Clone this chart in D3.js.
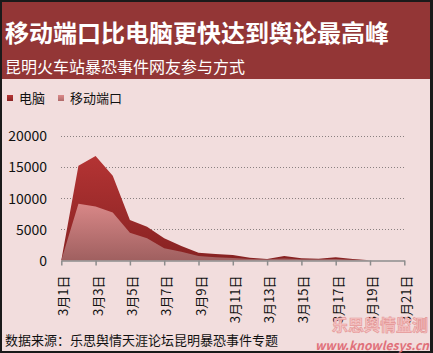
<!DOCTYPE html>
<html><head><meta charset="utf-8">
<script src="https://cdn.jsdelivr.net/npm/d3@7"></script>
<style>
html,body{margin:0;padding:0;background:#fff;}
svg{display:block;}
text{font-family:"Noto Sans CJK SC","Liberation Sans",sans-serif;}
</style></head>
<body>
<svg id="chart" width="433" height="353"></svg>
<script>
const dates = ["3月1日","3月2日","3月3日","3月4日","3月5日","3月6日","3月7日","3月8日","3月9日","3月10日","3月11日","3月12日","3月13日","3月14日","3月15日","3月16日","3月17日","3月18日","3月19日","3月20日","3月21日"];
const pcValues = [0,15200,16800,13600,6500,5400,3550,2300,1230,1000,850,420,200,700,320,260,480,200,20,null,null];
const mobileValues = [0,9080,8650,7680,4450,3550,1940,1390,700,480,370,200,150,300,150,150,200,80,10,null,null];
const yTicks = [0,5000,10000,15000,20000];
const seriesNames = ["电脑","移动端口"];
const titleText = "移动端口比电脑更快达到舆论最高峰";
const subtitleText = "昆明火车站暴恐事件网友参与方式";
const sourceText = "数据来源：乐思舆情天涯论坛昆明暴恐事件专题";

const svg = d3.select("#chart");
// background + border
svg.append("rect").attr("x",0).attr("y",0).attr("width",433).attr("height",353).attr("fill","#1a1a1a");
svg.append("rect").attr("x",2).attr("y",2).attr("width",428).attr("height",349).attr("fill","#f2dddd");
svg.append("rect").attr("x",2).attr("y",2).attr("width",428).attr("height",77).attr("fill","#933636");

svg.append("text").attr("x",5).attr("y",42).attr("fill","#fff").attr("font-size",24).attr("font-weight","bold").text(titleText);
svg.append("text").attr("x",5).attr("y",73).attr("fill","#fff").attr("font-size",16).text(subtitleText);

const defs = svg.append("defs");
const g1 = defs.append("linearGradient").attr("id","gPc").attr("gradientUnits","userSpaceOnUse").attr("x1",0).attr("y1",150).attr("x2",0).attr("y2",260);
g1.append("stop").attr("offset","0%").attr("stop-color","#b73535");
g1.append("stop").attr("offset","100%").attr("stop-color","#872222");
const g2 = defs.append("linearGradient").attr("id","gMob").attr("gradientUnits","userSpaceOnUse").attr("x1",0).attr("y1",200).attr("x2",0).attr("y2",260);
g2.append("stop").attr("offset","0%").attr("stop-color","#dc8a8a");
g2.append("stop").attr("offset","100%").attr("stop-color","#a06060");

// legend
const legendColors = ["url(#gPcL)","url(#gMobL)"];
const lg1 = defs.append("linearGradient").attr("id","gPcL").attr("x1",0).attr("y1",0).attr("x2",0).attr("y2",1);
lg1.append("stop").attr("offset","0%").attr("stop-color","#b73535");
lg1.append("stop").attr("offset","100%").attr("stop-color","#8a2424");
const lg2 = defs.append("linearGradient").attr("id","gMobL").attr("x1",0).attr("y1",0).attr("x2",0).attr("y2",1);
lg2.append("stop").attr("offset","0%").attr("stop-color","#dc8a8a");
lg2.append("stop").attr("offset","100%").attr("stop-color","#b06a6a");
const legendX = [7,58];
seriesNames.forEach((n,i)=>{
  svg.append("rect").attr("x",legendX[i]).attr("y",95).attr("width",6).attr("height",6).attr("fill",legendColors[i]);
  svg.append("text").attr("x",legendX[i]+12).attr("y",103).attr("font-size",13).attr("fill","#111").text(n);
});

const x = d3.scalePoint().domain(dates).range([61.3,404.3]);
const y = d3.scaleLinear().domain([0,20000]).range([260.3,136]);

// grid
svg.append("g").selectAll("line").data(yTicks.filter(d=>d>0)).join("line")
  .attr("x1",61).attr("x2",404).attr("y1",d=>Math.round(y(d))+0.5).attr("y2",d=>Math.round(y(d))+0.5)
  .attr("stroke","#8a8080").attr("stroke-width",1).attr("stroke-dasharray","1,2");

const area = d3.area().defined(d=>d.v!=null).x(d=>x(d.k)).y0(y(0)).y1(d=>y(d.v));
const pcData = dates.map((k,i)=>({k,v:pcValues[i]}));
const mobData = dates.map((k,i)=>({k,v:mobileValues[i]}));
svg.append("path").datum(pcData).attr("d",area).attr("fill","url(#gPc)");
svg.append("path").datum(mobData).attr("d",area).attr("fill","url(#gMob)");

// y axis labels
const yAxis = d3.axisLeft(y).tickValues(yTicks).tickSize(0).tickPadding(0).tickFormat(d3.format("d"));
const yg = svg.append("g").attr("transform","translate(47,0)").call(yAxis);
yg.select(".domain").remove();
yg.selectAll("text").attr("font-family","'Liberation Sans',sans-serif").attr("font-size",14).attr("fill","#111").attr("dy","0.35em");

// x axis
const tickDates = dates.filter((d,i)=>i%2===0);
const xAxis = d3.axisBottom(x).tickValues(tickDates).tickSize(5).tickSizeOuter(0);
const xg = svg.append("g").attr("transform","translate(0,260.5)").call(xAxis);
xg.select(".domain").attr("stroke","#8c8c8c").attr("stroke-width",1.5);
xg.selectAll(".tick line").attr("stroke","#8c8c8c").attr("stroke-width",1.5);
xg.selectAll(".tick text").attr("transform","rotate(-90)").attr("text-anchor","end")
  .attr("x",-15).attr("y",2).attr("dy","0.35em").attr("font-size",13).attr("fill","#111")
  .attr("font-family","'Noto Sans CJK SC',sans-serif");

svg.append("text").attr("x",5).attr("y",345).attr("font-size",13).attr("fill","#111").text(sourceText);

// watermark
svg.append("text").attr("x",428).attr("y",331).attr("text-anchor","end").attr("font-size",16).attr("font-weight","bold")
  .attr("fill","#f7c6c6").attr("stroke","#e59a9a").attr("stroke-width",0.7).text("乐思舆情监测");
svg.append("text").attr("x",429).attr("y",350).attr("text-anchor","end").attr("font-size",12).attr("font-weight","bold").attr("font-style","italic")
  .attr("font-family","'Liberation Sans',sans-serif").attr("fill","#e0707a").text("www.knowlesys.cn");
</script>
</body></html>
